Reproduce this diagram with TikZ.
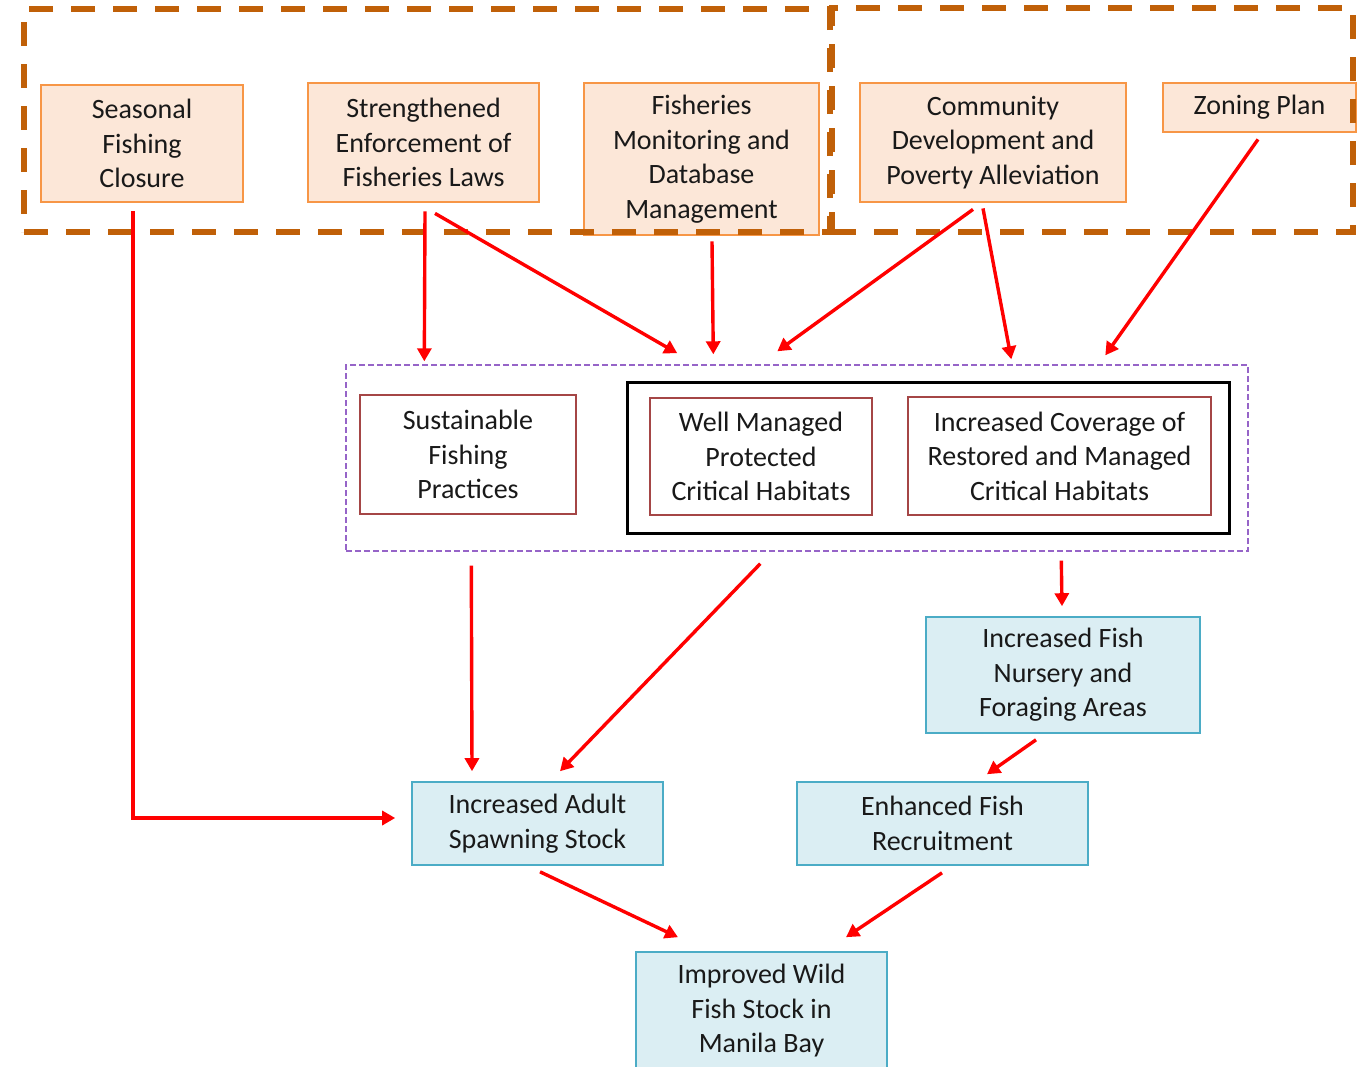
\documentclass[tikz,border=0pt]{standalone}
\usepackage{fontspec}
\setmainfont{Carlito}
\usetikzlibrary{arrows.meta,calc}
\definecolor{ordash}{RGB}{192,96,8}
\definecolor{orfill}{RGB}{252,231,216}
\definecolor{ordraw}{RGB}{247,150,70}
\definecolor{purp}{RGB}{150,100,200}
\definecolor{redb}{RGB}{165,70,70}
\definecolor{bfill}{RGB}{219,238,243}
\definecolor{bdraw}{RGB}{75,172,198}
\definecolor{txt}{RGB}{25,25,25}
\begin{document}
\begin{tikzpicture}[x=0.5pt,y=-0.5pt,
  base/.style={inner sep=0pt, align=center, text=txt, font=\fontsize{14}{17.25}\selectfont},
  obox/.style={base, draw=ordraw, fill=orfill, line width=1.4pt},
  rbox/.style={base, draw=redb, line width=0.6pt, fill=white},
  bbox/.style={base, draw=bdraw, fill=bfill, line width=0.8pt},
  grp/.style={draw=ordash, line width=2.7pt, dash pattern=on 12pt off 9pt, inner sep=0pt},
  pgrp/.style={draw=purp, line width=0.7pt, dash pattern=on 3pt off 1.5pt, inner sep=0pt},
  kgrp/.style={draw=black, line width=1.5pt, inner sep=0pt},
  arr/.style={draw=red, line width=1.7pt, -{Triangle[length=6.5pt,width=7pt]}},
]
\useasboundingbox (0,0) rectangle (1370,1066);

% top orange nodes
\node[obox, minimum width=101pt, minimum height=58.5pt] (sfc) at (142,143.5) {Seasonal\\Fishing\\Closure};
\node[obox, minimum width=115.5pt, minimum height=59.5pt] (sef) at (423.5,142.5) {Strengthened\\Enforcement of\\Fisheries Laws};
\node[obox, minimum width=117.5pt, minimum height=76pt] (fmd) at (701.5,159) {Fisheries\\Monitoring and\\Database\\Management};
\node[obox, minimum width=133pt, minimum height=59.5pt] (cdp) at (993,142.5) {Community\\Development and\\Poverty Alleviation};
\node[obox, minimum width=96.5pt, minimum height=24.5pt] (zon) at (1259.5,107.5) {Zoning Plan};

% dashed orange groups
\node[grp, minimum width=403pt, minimum height=111.5pt] (g1) at (427,120.5) {};
\node[grp, minimum width=260.5pt, minimum height=112pt] (g2) at (1092.5,120) {};

% middle group
\node[pgrp, minimum width=451pt, minimum height=93pt] (purple) at (797,458) {};
\node[kgrp, minimum width=301pt, minimum height=75.5pt] (black) at (928,457.5) {};
\node[rbox, minimum width=108pt, minimum height=59.5pt] (sfp) at (468,454.5) {Sustainable\\Fishing\\Practices};
\node[rbox, minimum width=111pt, minimum height=58.5pt] (wmp) at (761,456.5) {Well Managed\\Protected\\Critical Habitats};
\node[rbox, minimum width=151.5pt, minimum height=59pt] (icr) at (1059.5,456) {Increased Coverage of\\Restored and Managed\\Critical Habitats};

% blue outcome nodes
\node[bbox, minimum width=137pt, minimum height=58pt] (ifn) at (1063,675) {Increased Fish\\Nursery and\\Foraging Areas};
\node[bbox, minimum width=125.5pt, minimum height=41.5pt] (ias) at (537.5,823.5) {Increased Adult\\Spawning Stock};
\node[bbox, minimum width=145.5pt, minimum height=41.5pt] (efr) at (942.5,823.5) {Enhanced Fish\\Recruitment};
\node[bbox, minimum width=125.5pt, minimum height=59pt] (iwf) at (761.5,1011) {Improved Wild\\Fish Stock in\\Manila Bay};

% arrows
\draw[arr] ($(sfc.south)+(-9,8)$) |- ($(ias.west)+(-16,-5.5)$);
\draw[arr] ($(sef.south)+(1.5,8)$) -- ($(purple.north west)+(79,-3)$);
\draw[arr] ($(sef.south)+(11.5,10)$) -- ($(purple.north west)+(332,-11)$);
\draw[arr] ($(fmd.south)+(10.5,5)$) -- ($(purple.north west)+(368,-10)$);
\draw[arr] ($(cdp.south)+(-20,6)$) -- ($(purple.north west)+(432,-13)$);
\draw[arr] ($(cdp.south)+(-10,5)$) -- ($(purple.north west)+(666,-5)$);
\draw[arr] ($(zon.south)+(-1.5,6)$) -- ($(purple.north west)+(760,-9)$);
\draw[arr] ($(purple.south west)+(126,14)$) -- ($(ias.north)+(-65.5,-10)$);
\draw[arr] ($(purple.south west)+(415,12)$) -- ($(ias.north)+(22.5,-10)$);
\draw[arr] ($(purple.south west)+(716,9)$) -- ($(ifn.north)+(-1,-10)$);
\draw[arr] ($(ifn.south)+(-27,6)$) -- ($(efr.north)+(44.5,-7)$);
\draw[arr] ($(ias.south)+(2.5,6)$) -- ($(iwf.north)+(-83.5,-14)$);
\draw[arr] ($(efr.south)+(-0.5,7)$) -- ($(iwf.north)+(84.5,-14)$);
\end{tikzpicture}
\end{document}
